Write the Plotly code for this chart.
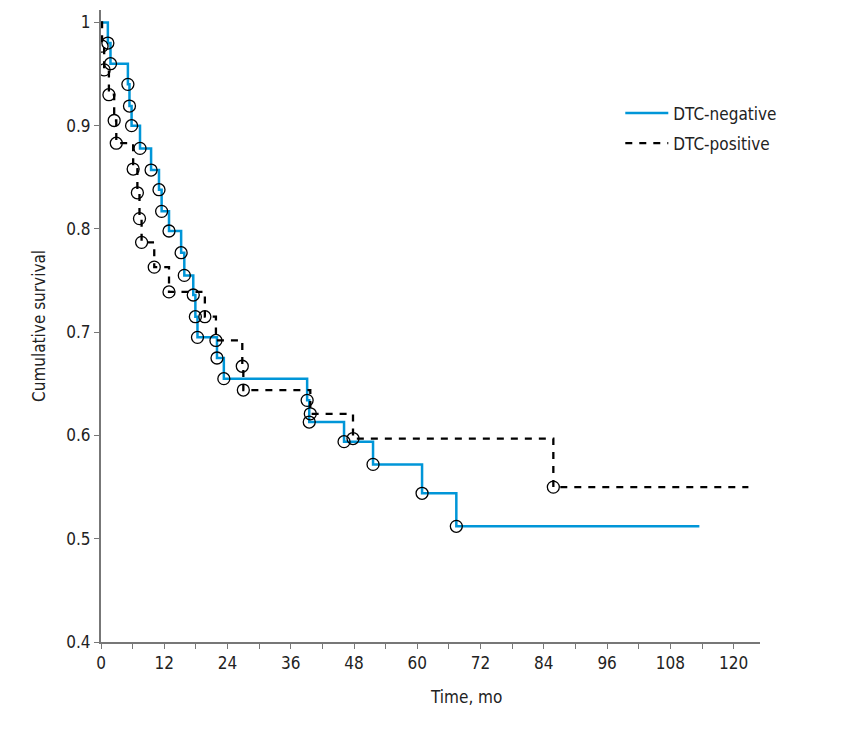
import plotly.graph_objects as go

# DTC-negative: drop times (months) and survival after each drop
neg_t = [0, 1.3, 1.8, 5.1, 5.4, 5.8, 7.4, 9.5, 11.0, 11.5, 12.9, 15.2, 15.8, 17.5, 17.9, 18.3, 22.0, 23.3, 39.1, 39.5, 46.1, 51.6, 60.9, 67.4, 113.5]
neg_s = [1.0, 0.980, 0.960, 0.940, 0.919, 0.900, 0.878, 0.857, 0.838, 0.817, 0.798, 0.777, 0.755, 0.736, 0.715, 0.695, 0.675, 0.655, 0.634, 0.613, 0.594, 0.572, 0.544, 0.512, 0.512]

# DTC-positive
pos_t = [0, 0.2, 0.6, 1.5, 2.5, 2.9, 6.1, 6.9, 7.3, 7.7, 10.1, 12.9, 19.7, 21.8, 26.8, 27.0, 39.7, 47.8, 85.8, 122.8]
pos_s = [1.0, 0.977, 0.954, 0.930, 0.905, 0.883, 0.858, 0.835, 0.810, 0.787, 0.763, 0.739, 0.715, 0.692, 0.667, 0.644, 0.621, 0.597, 0.550, 0.550]

x_ticks = [0, 12, 24, 36, 48, 60, 72, 84, 96, 108, 120]
y_ticks = [0.4, 0.5, 0.6, 0.7, 0.8, 0.9, 1.0]
y_labels = ["0.4", "0.5", "0.6", "0.7", "0.8", "0.9", "1"]

FONT = "Liberation Sans Narrow, DejaVu Sans Condensed, Roboto, sans-serif"
BLUE = "#0096D8"

fig = go.Figure()
fig.add_trace(go.Scatter(x=neg_t, y=neg_s, mode="lines", line_shape="hv", legendgroup="neg",
                         line=dict(color=BLUE, width=2.5), name="DTC-negative"))
fig.add_trace(go.Scatter(x=pos_t, y=pos_s, mode="lines", line_shape="hv", legendgroup="pos",
                         line=dict(color="black", width=2.3, dash="7px,7px"), name="DTC-positive"))
fig.add_trace(go.Scatter(x=neg_t[1:-1], y=neg_s[1:-1], mode="markers", showlegend=False,
                         marker=dict(symbol="circle-open", size=12, color="black", line=dict(width=1.3))))
fig.add_trace(go.Scatter(x=pos_t[1:-1], y=pos_s[1:-1], mode="markers", showlegend=False,
                         marker=dict(symbol="circle-open", size=12, color="black", line=dict(width=1.3))))

fig.update_layout(
    width=858, height=739,
    margin=dict(l=101, r=98, t=10, b=97),
    plot_bgcolor="white", paper_bgcolor="white",
    font=dict(family=FONT, size=17, color="#222"),
    legend=dict(x=0.788, y=0.8646, xanchor="left", yanchor="top", itemwidth=43,
                font=dict(size=17), bgcolor="rgba(0,0,0,0)", tracegroupgap=5),
    xaxis=dict(range=[0, 125], tickvals=x_ticks, ticks="outside", ticklen=5, tickcolor="#777",
               minor=dict(dtick=6, ticks="outside", ticklen=5, tickcolor="#777"),
               showline=True, linecolor="#777", linewidth=2, showgrid=False, zeroline=False),
    yaxis=dict(range=[0.4, 1.012], tickvals=y_ticks, ticktext=y_labels, ticks="outside", ticklen=5,
               tickcolor="#777", showline=True, linecolor="#777", linewidth=2, showgrid=False,
               zeroline=False),
    annotations=[
        dict(text="Time, mo", x=(466 - 101) / 659, y=-(697 - 642) / 632, xref="paper", yref="paper",
             xanchor="center", yanchor="middle", showarrow=False, font=dict(size=17)),
        dict(text="Cumulative survival", x=-(101 - 39) / 659, y=0.5, xref="paper", yref="paper",
             xanchor="center", yanchor="middle", textangle=-90, showarrow=False, font=dict(size=17)),
    ],
)

fig.write_html("out.html")
